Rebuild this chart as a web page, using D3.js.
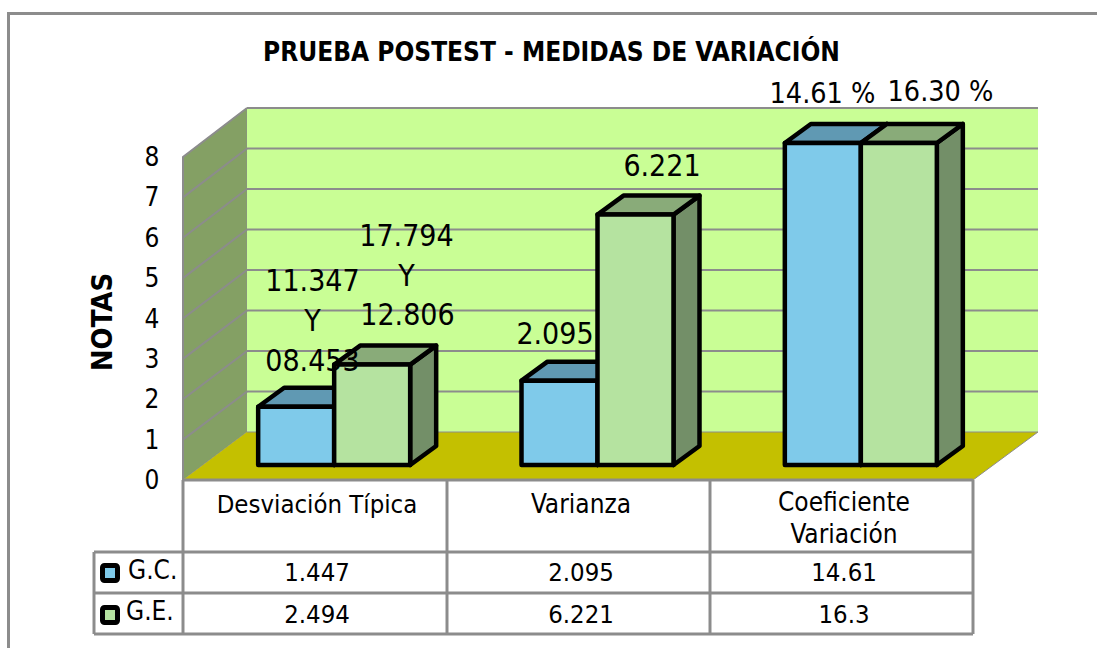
<!DOCTYPE html>
<html><head><meta charset="utf-8">
<script src="https://cdn.jsdelivr.net/npm/d3@7"></script>
<style>html,body{margin:0;padding:0;background:#fff}svg{display:block}
text{font-family:"DejaVu Sans";font-stretch:condensed;fill:#000}</style></head>
<body><svg id="c" width="1097" height="648"></svg>
<script>
const title = "PRUEBA POSTEST - MEDIDAS DE VARIACIÓN";
const yTitle = "NOTAS";
const categories = ["Desviación Típica", "Varianza", "Coeficiente Variación"];
const seriesNames = ["G.C.", "G.E."];
const gc = [1.447, 2.095, 14.61];
const ge = [2.494, 6.221, 16.3];
const gcTable = ["1.447", "2.095", "14.61"];
const geTable = ["2.494", "6.221", "16.3"];
const yTicks = [0,1,2,3,4,5,6,7,8];
const colors = {gc:"#7fcaea", gcTop:"#6099b3", ge:"#b5e3a0", geTop:"#89ab79", geSide:"#738f68",
  wall:"#c9fe95", side:"#84a064", floor:"#c4c000", grid:"#8c8c8c"};

const svg = d3.select("#c");
const x0 = d3.scaleBand().domain(categories).range([183,973]);
const yFront = d3.scaleLinear().domain([0,8]).range([480,157]);
const yBack = d3.scaleLinear().domain([0,8]).range([432,108]);
const yBar = d3.scaleLinear().domain([0,8]).range([465,143]).clamp(true);
const barDx = 26, barDy = 19;
const poly = pts => pts.map(p=>p.join(",")).join(" ");

// frame
svg.append("path").attr("d","M8.5,648V13.5H1097").attr("fill","none").attr("stroke",colors.grid).attr("stroke-width",3);

// walls
svg.append("polygon").attr("points",poly([[183,480],[183,157],[247,108],[247,432]])).attr("fill",colors.side).attr("stroke",colors.grid).attr("stroke-width",1);
svg.append("rect").attr("x",247).attr("y",yBack(8)).attr("width",791).attr("height",yBack(0)-yBack(8)).attr("fill",colors.wall);
svg.append("polygon").attr("points",poly([[183,480],[247,432],[1038,432],[973,480]])).attr("fill",colors.floor);
yTicks.forEach(t=>{
  if(t>0) svg.append("line").attr("x1",247).attr("x2",1038).attr("y1",yBack(t)).attr("y2",yBack(t)).attr("stroke",colors.grid).attr("stroke-width",2);
  if(t>0 && t<8) svg.append("line").attr("x1",183).attr("x2",247).attr("y1",yFront(t)).attr("y2",yBack(t)).attr("stroke",colors.grid).attr("stroke-width",2);
});
svg.append("path").attr("d","M183,481V157L247,108").attr("fill","none").attr("stroke",colors.grid).attr("stroke-width",2);
svg.append("line").attr("x1",1038).attr("x2",973).attr("y1",432).attr("y2",480).attr("stroke",colors.grid).attr("stroke-width",1);
svg.append("line").attr("x1",247).attr("x2",1038).attr("y1",432).attr("y2",432).attr("stroke",colors.grid).attr("stroke-width",1);

// bars
const barW = 76;
categories.forEach((c,i)=>{
  const cx = x0(c)+x0.bandwidth()/2 + 19.5;
  const draw = (v,left,fill,top,side)=>{
    const y = yBar(v), b = yBar(0);
    const g = svg.append("g").attr("stroke","#000").attr("stroke-width",4.5).attr("stroke-linejoin","round");
    g.append("polygon").attr("points",poly([[left+barW,b],[left+barW,y],[left+barW+barDx,y-barDy],[left+barW+barDx,b-barDy]])).attr("fill",side);
    g.append("polygon").attr("points",poly([[left,y],[left+barDx,y-barDy],[left+barW+barDx,y-barDy],[left+barW,y]])).attr("fill",top);
    g.append("rect").attr("x",left).attr("y",y).attr("width",barW).attr("height",b-y).attr("fill",fill);
  };
  draw(gc[i],cx-barW,colors.gc,colors.gcTop,colors.gcTop);
  draw(ge[i],cx,colors.ge,colors.geTop,colors.geSide);
});

// axis labels
yTicks.forEach(t=>svg.append("text").attr("x",152).attr("y",yFront(t)+9).attr("text-anchor","middle").attr("font-size",26).text(t));
svg.append("text").attr("transform","translate(112,322) rotate(-90)").attr("text-anchor","middle").attr("font-size",29).attr("font-weight","bold").text(yTitle);
svg.append("text").attr("x",551.5).attr("y",61).attr("text-anchor","middle").attr("font-size",26).attr("font-weight","bold").text(title);

// data labels
const notes = [
 ["11.347",312.5,291,30],["Y",312.5,331,30],["08.453",312.5,371,30],
 ["17.794",406.5,246,30],["Y",406.5,286,30],["12.806",407.5,325,30],
 ["6.221",662,176,30],["2.095",555,344,30],
 ["14.61 %",822.5,103,28.5],["16.30 %",940.5,100.5,28.5]];
notes.forEach(n=>svg.append("text").attr("x",n[1]).attr("y",n[2]).attr("text-anchor","middle").attr("font-size",n[3]).text(n[0]));

// data table
const gridLines = [[183,480,183,634],[447,480,447,634],[710,480,710,634],[973,480,973,634],
 [183,480,973,480],[94,552,973,552],[94,593,973,593],[94,634,973,634],[94,552,94,634]];
gridLines.forEach(l=>svg.append("line").attr("x1",l[0]).attr("y1",l[1]).attr("x2",l[2]).attr("y2",l[3]).attr("stroke",colors.grid).attr("stroke-width",3));
const colC = [317,581,844];
svg.append("text").attr("x",colC[0]).attr("y",513).attr("text-anchor","middle").attr("font-size",25.5).text(categories[0]);
svg.append("text").attr("x",colC[1]).attr("y",513).attr("text-anchor","middle").attr("font-size",26).text(categories[1]);
svg.append("text").attr("x",colC[2]).attr("y",511).attr("text-anchor","middle").attr("font-size",26).text("Coeficiente");
svg.append("text").attr("x",colC[2]).attr("y",543).attr("text-anchor","middle").attr("font-size",26).text("Variación");
[gcTable,geTable].forEach((r,j)=>r.forEach((v,i)=>svg.append("text").attr("x",colC[i]).attr("y",j?623:581).attr("text-anchor","middle").attr("font-size",25.5).text(v)));
[[colors.gc,seriesNames[0],128,579],[colors.ge,seriesNames[1],126,620]].forEach((s,j)=>{
  svg.append("rect").attr("x",102.5).attr("y",j?607.5:565.5).attr("width",15).attr("height",15).attr("rx",2).attr("fill",s[0]).attr("stroke","#000").attr("stroke-width",5);
  svg.append("text").attr("x",s[2]).attr("y",s[3]).attr("font-size",26).text(s[1]);
});
</script></body></html>
